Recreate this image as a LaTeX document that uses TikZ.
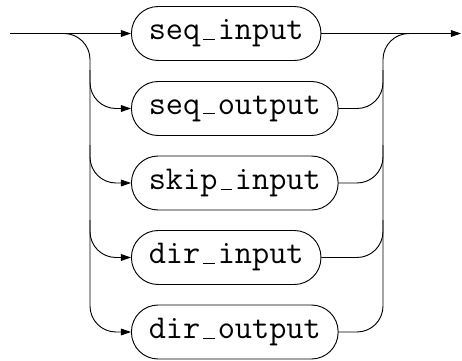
\documentclass[tikz,border=0pt]{standalone}
\usetikzlibrary{arrows.meta}
\newcommand\usc{\makebox[0.525em]{\rule{0.34em}{0.6pt}}}
\begin{document}
\begin{tikzpicture}[x=0.75pt,y=-0.75pt, line width=0.7pt,
  term/.style={draw, rounded corners=20pt, minimum height=40.5pt, inner xsep=13pt, inner ysep=0pt,
    font=\ttfamily\fontsize{25}{25}\selectfont, anchor=west},
  arr/.style={-{Triangle[length=7.5pt,width=5pt]}},
  rr/.style={rounded corners=19.5pt}]
\useasboundingbox (0,0) rectangle (462,361);
\node[term] (n1) at (131,33.5) {seq\usc input};
\node[term] (n2) at (131,108.5) {seq\usc output};
\node[term] (n3) at (131,183) {skip\usc input};
\node[term] (n4) at (131,257.5) {dir\usc input};
\node[term] (n5) at (131,332) {dir\usc output};
\coordinate (start) at (10,33.5);
\coordinate (stop) at (461,33.5);
\coordinate (lsplit) at (64,33.5);
\coordinate (rjoin) at (409,33.5);
\draw[arr] (start) -- (n1.west);
\draw[arr] (n1.east) -- (stop);
\draw[arr,rr] (lsplit) -| (90,332) -- (n5.west);
\draw[arr,rr] (90,70) |- (n2.west);
\draw[arr,rr] (90,145) |- (n3.west);
\draw[arr,rr] (90,220) |- (n4.west);
\draw[rr] (n5.east) -| (383,33.5) -- (rjoin);
\draw[rr] (n2.east) -| (383,70);
\draw[rr] (n3.east) -| (383,145);
\draw[rr] (n4.east) -| (383,220);
\end{tikzpicture}
\end{document}
